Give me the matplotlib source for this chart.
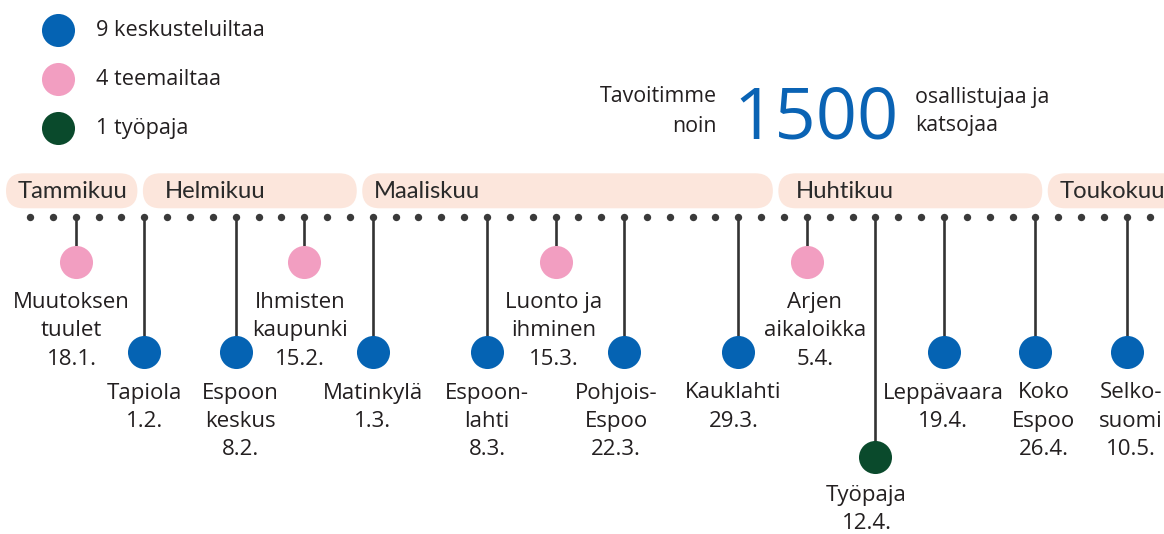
import matplotlib
matplotlib.use("Agg")
import matplotlib.pyplot as plt
from matplotlib.patches import FancyBboxPatch

# ---------------- data ----------------
legend_labels = ["9 keskusteluiltaa", "4 teemailtaa", "1 työpaja"]
legend_types = ["keskustelu", "teema", "tyopaja"]

goal_left = ["Tavoitimme", "noin"]
goal_number = "1500"
goal_right = ["osallistujaa ja", "katsojaa"]

months = ["Tammikuu", "Helmikuu", "Maaliskuu", "Huhtikuu", "Toukokuu"]
month_bounds = [-1.17, 4.82, 14.42, 32.63, 44.42, 51.0]   # in dot-index units

n_dots = 50
event_dot = [2, 5, 9, 12, 15, 20, 23, 26, 31, 34, 37, 40, 44, 48]
event_type = ["teema", "keskustelu", "keskustelu", "teema", "keskustelu",
              "keskustelu", "teema", "keskustelu", "keskustelu", "teema",
              "tyopaja", "keskustelu", "keskustelu", "keskustelu"]
event_name = ["Muutoksen\ntuulet", "Tapiola", "Espoon\nkeskus", "Ihmisten\nkaupunki",
              "Matinkylä", "Espoon-\nlahti", "Luonto ja\nihminen", "Pohjois-\nEspoo",
              "Kauklahti", "Arjen\naikaloikka", "Työpaja", "Leppävaara",
              "Koko\nEspoo", "Selko-\nsuomi"]
event_date = ["18.1.", "1.2.", "8.2.", "15.2.", "1.3.", "8.3.", "15.3.", "22.3.",
              "29.3.", "5.4.", "12.4.", "19.4.", "26.4.", "10.5."]

# ---------------- style ----------------
W, H = 1164, 534
X0, STEP = 30, 22.85          # pixel position of first dot, spacing
colors = {"keskustelu": "#0563b3", "teema": "#f29ec1", "tyopaja": "#0a4a2c"}
circle_y = {"keskustelu": 352, "teema": 262, "tyopaja": 457}
first_baseline = {"keskustelu": 398.5, "teema": 308, "tyopaja": 501}
LINE_H = 28.3
label_nudge = [-4, 0, 5, -4, 0, 0, -2, -8, -5, 8, -9, -1, 8, 4]  # px
month_text_pad = [12, 22, 12, 18, 12]  # px
DOT_Y = 216.5
TXT = "#231f20"
FONT = "Open Sans"
CIRCLE_S = 566

fig = plt.figure(figsize=(W / 100, H / 100), dpi=100)
fig.patch.set_facecolor("white")

# timeline axes: x in dot-index units, y in pixels
ax = fig.add_axes([0, 0, 1, 1])
ax.set_xlim(-X0 / STEP, (W - X0) / STEP)
ax.set_ylim(H, 0)
ax.axis("off")

# overlay axes in pixel units for header and legend
axp = fig.add_axes([0, 0, 1, 1])
axp.set_xlim(0, W)
axp.set_ylim(H, 0)
axp.axis("off")
axp.patch.set_alpha(0)

# month pills
for i, m in enumerate(months):
    left = month_bounds[i] + 0.12
    right = month_bounds[i + 1] - 0.12
    pill = FancyBboxPatch((left, 173.3), right - left, 35,
                          boxstyle="round,pad=0,rounding_size=0.766",
                          mutation_aspect=STEP, facecolor="#fce6dc",
                          edgecolor="none", zorder=1)
    ax.add_patch(pill)
    ax.annotate(m, (left, 197.5), xytext=(month_text_pad[i] * 0.72, 0),
                textcoords="offset points", fontsize=17.2, family="Lato",
                color="#2a2a2a", va="baseline", ha="left", zorder=2)

# dots
ax.scatter(range(n_dots), [DOT_Y] * n_dots, s=28, color="#3a3a3a", zorder=3,
           linewidths=0)

# stems
for d, t in zip(event_dot, event_type):
    ax.plot([d, d], [DOT_Y, circle_y[t]], color="#333333", lw=1.9, zorder=2,
            solid_capstyle="butt")

# circles
for d, t in zip(event_dot, event_type):
    ax.scatter([d], [circle_y[t]], s=CIRCLE_S, color=colors[t], zorder=4,
               linewidths=0)

# labels (one text per line, baseline aligned)
for d, t, n, dt, nd in zip(event_dot, event_type, event_name, event_date, label_nudge):
    lines = n.split("\n") + [dt]
    for k, line in enumerate(lines):
        ax.annotate(line, (d, first_baseline[t] + k * LINE_H),
                    xytext=(nd * 0.72, 0), textcoords="offset points",
                    ha="center", va="baseline", fontsize=16, family=FONT,
                    color=TXT, zorder=5)

# legend
for i, (lab, t) in enumerate(zip(legend_labels, legend_types)):
    y = 30 + i * 48.8
    axp.scatter([58], [y], s=CIRCLE_S, color=colors[t], linewidths=0)
    axp.text(96, y + 6.5, lab, fontsize=15.6, family=FONT, color=TXT,
             va="baseline", ha="left")

# goal text
for k, line in enumerate(goal_left):
    axp.text(717, 102.5 + k * 29, line, fontsize=15.4, family=FONT, color=TXT,
             ha="right", va="baseline")
axp.text(816, 138.3, goal_number, fontsize=52, family=FONT, color="#0a63b4",
         ha="center", va="baseline")
for k, line in enumerate(goal_right):
    axp.text(915, 102.5 + k * 29, line, fontsize=15.4, family=FONT, color=TXT,
             ha="left", va="baseline")

fig.savefig("out.png", dpi=100, facecolor="white")
